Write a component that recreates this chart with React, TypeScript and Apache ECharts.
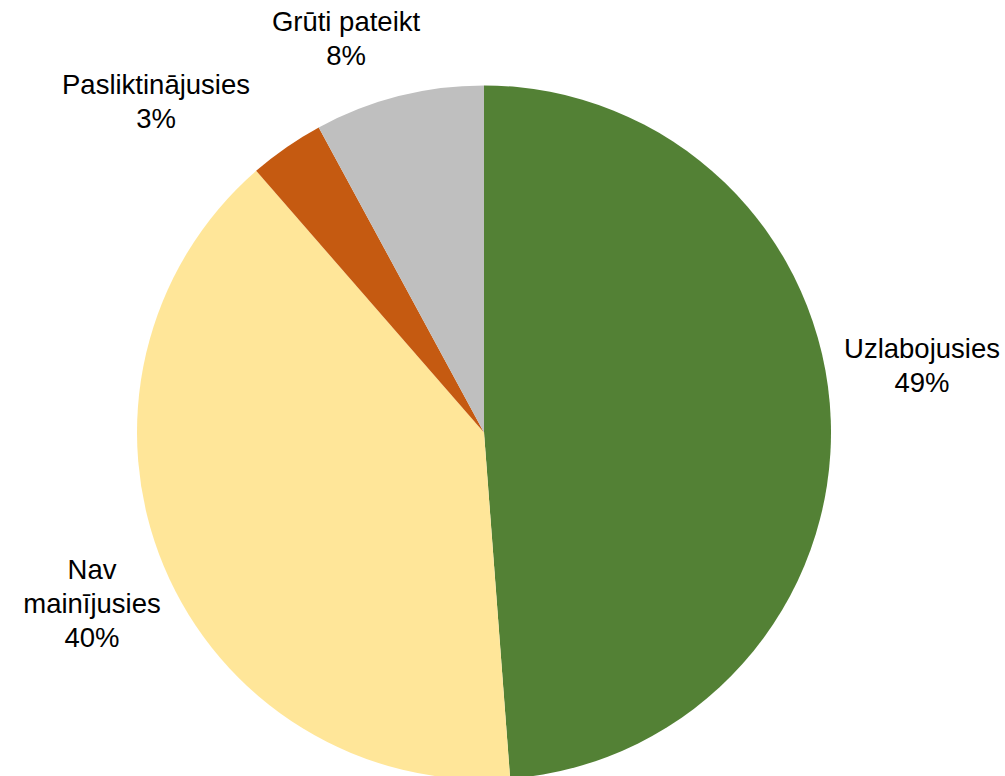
import React, { useEffect, useRef } from "react";
import * as echarts from "echarts";

const categories = ["Uzlabojusies", "Nav\nmainījusies", "Pasliktinājusies", "Grūti pateikt"];
const values = [48.8, 39.8, 3.5, 7.9];
const colors = ["#538135", "#FFE699", "#C55A11", "#BFBFBF"];
// label block centres relative to pie centre (px)
const labelOffsets = [
  [438, -67],
  [-392, 171],
  [-328, -331],
  [-138, -394],
];

const CX = 484;
const CY = 432.5;
const R = 347;

export default function App() {
  const ref = useRef<HTMLDivElement>(null);
  useEffect(() => {
    if (!ref.current) return;
    const chart = echarts.init(ref.current, undefined, { renderer: "svg" });
    chart.setOption({
      animation: false,
      backgroundColor: "#ffffff",
      series: [
        {
          type: "pie",
          center: [CX, CY],
          radius: [0, R],
          startAngle: 90,
          clockwise: true,
          percentPrecision: 0,
          data: categories.map((name, i) => ({
            name,
            value: values[i],
            itemStyle: { color: colors[i] },
          })),
          itemStyle: { borderWidth: 0 },
          emphasis: { disabled: true },
          label: {
            show: true,
            position: "outside",
            formatter: (p: any) => `${p.name}\n${Math.round(p.percent)}%`,
            fontFamily: "Liberation Sans, Arial, sans-serif",
            fontSize: 27.5,
            lineHeight: 34,
            color: "#000000",
            align: "center",
            overflow: "none",
            edgeDistance: 0,
          },
          labelLine: { show: false },
          labelLayout: (params: any) => {
            const o = labelOffsets[params.dataIndex];
            return {
              x: CX + o[0],
              y: CY + o[1],
              align: "center",
              verticalAlign: "middle",
            };
          },
        },
      ],
    });
    return () => chart.dispose();
  }, []);
  return (
    <div
      ref={ref}
      style={{ position: "fixed", left: 0, top: 0, width: 1005, height: 776 }}
    />
  );
}
